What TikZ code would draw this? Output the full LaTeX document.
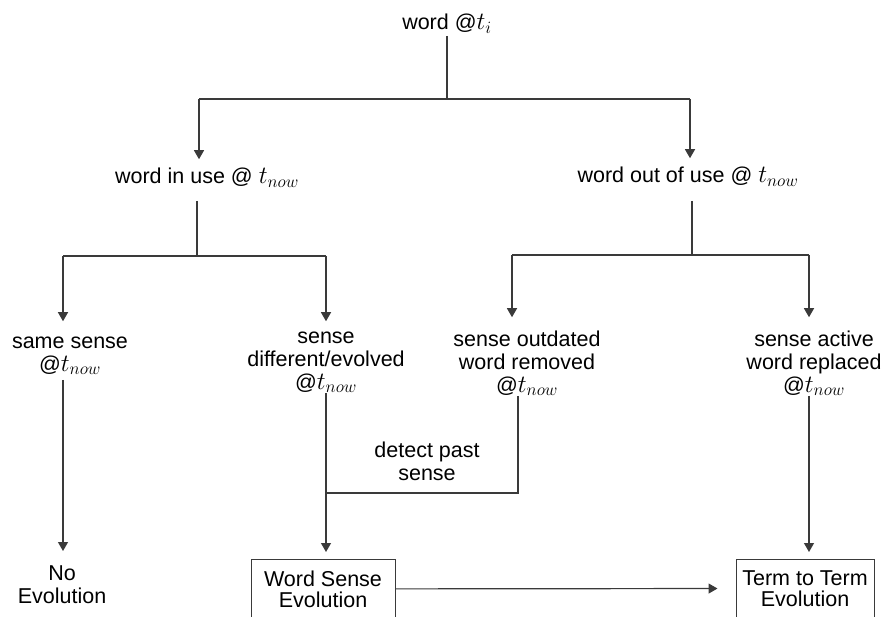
\documentclass[tikz,border=0pt]{standalone}
\usepackage{fontspec}
\setmainfont{Liberation Sans}
\usetikzlibrary{arrows.meta}
\definecolor{linegray}{HTML}{3A3A3A}
% time stamps, set in a slightly larger math size than the text
\newcommand{\tNow}{{\fontsize{27}{27}\selectfont$t_{now}$}}
\newcommand{\tIni}{{\fontsize{27}{27}\selectfont$t_{i}$}}
\begin{document}
\begin{tikzpicture}[x=1pt,y=-1pt,
  lbl/.style={font=\fontsize{21.5}{23}\selectfont, align=center, inner sep=0pt, anchor=base},
  line/.style={draw=linegray, line width=1.2pt},
  arr/.style={line, -{Triangle[width=10pt,length=9pt]}},
  evobox/.style={draw=linegray, line width=1pt, font=\fontsize{21.5}{21}\selectfont,
    align=center, anchor=north, inner xsep=0pt, inner ysep=11pt}]
\useasboundingbox (0,0) rectangle (885,617);
\clip (0,0) rectangle (885,617);

% labels (base = baseline of the last line)
\node[lbl] (top)    at (447,30)  {word @\tIni};
\node[lbl] (inuse)  at (207,184) {word in use @ \tNow};
\node[lbl] (outuse) at (688,183) {word out of use @ \tNow};
\node[lbl] (same)   at (70,371)  {same sense\\@\tNow};
\node[lbl] (diff)   at (326,389) {sense\\different/evolved\\@\tNow};
\node[lbl] (outd)   at (527,392) {sense outdated\\word removed\\@\tNow};
\node[lbl] (active) at (814,392) {sense active\\word replaced\\@\tNow};
\node[lbl] (detect) at (427,480) {detect past\\sense};
\node[lbl] (noevo)  at (62,603)  {No\\Evolution};

% outcome boxes
\node[evobox, minimum width=144pt] (wse) at (323,559) {Word Sense\\Evolution};
\node[evobox, minimum width=138pt] (tte) at (805,559) {Term to Term\\Evolution};

% branch points
\coordinate (j0)  at (447,99);
\coordinate (jl)  at (199,99);
\coordinate (jr)  at (690,99);
\coordinate (kl)  at (197,256);
\coordinate (kl1) at (63,256);
\coordinate (kl2) at (326,256);
\coordinate (kr)  at (692,255);
\coordinate (kr1) at (512,255);
\coordinate (kr2) at (809,255);
\coordinate (mr)  at (518,493);
\coordinate (ml)  at (326,493);

% first split
\draw[line, shorten <=2pt] (top.south) -- (j0);
\draw[line] (jl) -- (jr);
\draw[arr, shorten >=9pt] (jl) -- (inuse.north -| jl);
\draw[arr, shorten >=9pt] (jr) -- (outuse.north -| jr);

% word in use
\draw[line, shorten <=13pt] (inuse.south -| kl) -- (kl);
\draw[line] (kl1) -- (kl2);
\draw[arr, shorten >=15pt] (kl1) -- (same.north -| kl1);
\draw[arr, shorten >=10pt] (kl2) -- (diff.north -| kl2);

% word out of use
\draw[line, shorten <=14pt] (outuse.south -| kr) -- (kr);
\draw[line] (kr1) -- (kr2);
\draw[arr, shorten >=13pt] (kr1) -- (outd.north -| kr1);
\draw[arr, shorten >=13pt] (kr2) -- (active.north -| kr2);

% outcomes
\draw[arr, shorten <=5pt, shorten >=14pt] (same.south -| kl1) -- (noevo.north -| kl1);
\draw[arr, shorten >=7pt] (diff.south) -- (wse.north -| diff);
\draw[line] (outd.south -| mr) -- (mr) -- (ml);
\draw[arr, shorten >=7pt] (active.south -| kr2) -- (tte.north -| kr2);
\draw[arr, shorten >=18pt] (wse.east) -- (tte.west);
\end{tikzpicture}
\end{document}
